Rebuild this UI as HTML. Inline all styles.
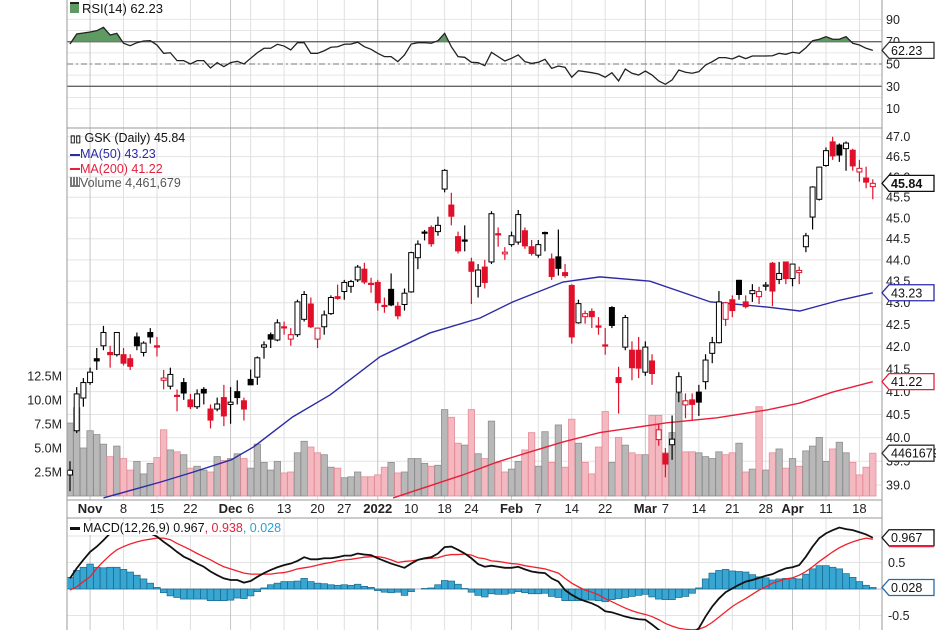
<!DOCTYPE html>
<html><head><meta charset="utf-8">
<style>
html,body{margin:0;padding:0;background:#fff;}
svg{display:block;font-family:"Liberation Sans",sans-serif;}
</style></head>
<body>
<svg id="chart" width="936" height="630" viewBox="0 0 936 630" xmlns="http://www.w3.org/2000/svg">
<defs>
<clipPath id="cpPrice"><rect x="67" y="128" width="815" height="372"/></clipPath>
<clipPath id="cpMacd"><rect x="67" y="518" width="815" height="112"/></clipPath>
<clipPath id="cpRsiHi"><rect x="67" y="0" width="815" height="41.7"/></clipPath>
</defs>
</svg>
<script>
const opens=[39.21,40.15,40.86,41.2,41.73,42.02,41.87,41.82,41.82,41.73,42.22,41.87,42.32,42.02,41.25,41.12,40.92,41.2,40.82,40.67,41.05,40.62,40.62,40.87,40.72,41.0,40.8,41.27,41.32,41.99,42.27,42.15,42.45,42.17,42.27,42.62,42.97,42.17,42.45,42.75,43.14,43.26,43.38,43.53,43.78,43.45,43.47,42.94,43.31,42.92,42.96,43.25,44.05,44.66,44.77,44.67,45.7,45.31,44.55,44.47,43.95,43.38,43.83,43.95,44.62,44.14,44.36,44.42,44.69,44.31,44.11,44.65,44.02,44.07,43.7,43.4,42.54,42.68,42.8,42.47,42.04,42.89,41.31,41.99,41.92,41.92,41.43,41.68,39.96,39.66,39.85,40.99,40.71,40.82,40.99,41.22,41.85,42.09,42.62,43.07,43.52,43.02,43.21,43.14,43.39,43.92,43.54,43.95,43.56,43.7,44.31,45.02,45.45,46.28,46.87,46.79,46.7,46.66,46.12,45.97,45.76];
const highs=[39.5,41.1,41.3,41.53,41.97,42.47,42.02,42.32,41.97,41.83,42.32,42.12,42.42,42.22,41.48,41.53,41.05,41.3,40.95,41.05,41.1,40.72,40.87,41.15,41.1,41.25,40.87,41.49,41.78,42.12,42.32,42.62,42.57,42.42,43.07,43.27,43.12,42.42,42.82,43.17,43.42,43.53,43.53,43.88,43.93,43.58,43.53,43.12,43.68,43.02,43.33,44.19,44.46,44.71,44.82,45.03,46.19,45.61,44.67,44.82,44.05,43.9,44.0,45.16,44.77,44.3,44.67,45.19,44.77,44.47,44.47,44.67,44.15,44.72,43.9,43.43,43.07,42.82,42.87,42.67,42.42,42.92,41.55,42.72,42.12,42.22,42.12,41.83,40.3,39.78,40.48,41.43,40.96,40.96,41.15,41.83,42.22,43.27,43.02,43.17,43.53,43.17,43.43,43.37,43.48,43.95,43.95,43.95,43.9,43.84,44.64,45.77,46.25,46.73,47.0,46.83,46.88,46.7,46.42,46.25,45.94];
const lows=[38.87,40.1,40.67,41.15,41.48,41.92,41.53,41.78,41.58,41.48,41.92,41.78,42.07,41.78,41.05,41.05,40.57,40.82,40.62,40.62,40.72,40.2,40.57,40.25,40.3,40.72,40.37,41.15,41.15,41.73,41.97,42.12,42.27,42.02,42.22,42.57,42.42,41.97,42.27,42.72,43.07,43.07,43.23,43.48,43.43,43.23,42.82,42.77,42.92,42.62,42.82,43.23,43.78,44.46,44.31,44.57,45.62,44.82,44.15,44.2,42.97,43.12,43.33,43.9,44.31,44.0,44.31,44.36,44.26,44.1,44.05,44.2,43.53,43.63,43.58,42.07,42.52,42.52,42.42,42.27,41.82,42.42,40.52,41.92,41.25,41.3,41.35,41.15,39.83,39.16,39.53,40.77,40.42,40.38,40.47,41.05,41.63,42.07,42.47,42.67,43.07,42.87,43.02,42.97,43.28,42.92,43.43,43.43,43.38,43.43,44.18,44.72,45.42,46.25,46.42,46.37,46.15,46.15,45.88,45.72,45.45];
const closes=[39.31,40.95,41.2,41.43,41.68,42.32,41.82,42.32,41.63,41.56,42.02,42.08,42.22,41.99,41.3,41.38,40.9,40.97,40.67,40.95,40.97,40.38,40.73,40.47,40.77,40.87,40.62,41.15,41.75,42.04,42.17,42.54,42.44,42.27,43.02,43.19,42.45,42.42,42.72,43.12,43.1,43.47,43.49,43.83,43.48,43.43,43.0,42.92,42.95,42.7,43.22,44.17,44.37,44.64,44.38,44.82,46.16,45.04,44.21,44.45,43.73,43.76,43.47,45.1,44.6,44.18,44.57,45.08,44.33,44.15,44.36,44.62,43.61,43.8,43.63,42.22,42.98,42.75,42.68,42.44,42.02,42.48,41.2,42.66,41.53,41.52,41.99,41.4,40.17,39.44,39.97,41.33,40.8,40.72,40.77,41.7,42.09,43.02,43.0,42.82,43.19,42.91,43.28,43.26,43.41,43.27,43.68,43.56,43.9,43.75,44.57,45.75,46.24,46.65,46.52,46.54,46.84,46.27,46.21,45.87,45.84];
const volumes=[7.6,9.2,5.0,6.8,6.4,5.4,4.1,5.2,3.9,2.7,3.6,2.3,3.4,4.0,6.9,4.8,4.6,4.3,2.9,3.1,2.7,2.5,4.1,3.7,3.9,4.4,3.9,2.9,5.4,3.5,2.7,3.6,2.4,2.5,4.5,5.7,5.1,4.5,4.3,3.0,2.9,1.9,2.0,2.5,2.0,2.0,2.2,3.0,3.5,2.4,2.5,3.9,3.9,3.4,3.1,3.2,9.0,8.2,5.5,5.3,9.0,4.4,3.9,7.8,3.5,2.5,2.8,3.6,4.8,6.6,3.1,6.7,3.5,7.4,3.0,8.0,5.5,3.5,2.3,5.1,8.8,3.5,6.1,5.3,4.5,4.3,4.3,8.4,8.4,4.5,6.6,10.7,4.6,4.6,4.5,4.1,3.9,4.6,4.3,4.5,5.5,2.5,2.8,9.3,2.7,4.5,4.9,2.9,3.9,3.1,4.7,5.2,6.1,3.6,4.9,5.6,4.5,3.5,2.2,3.0,4.461679];
const ma50Idx=[5,13.5,18.4,24.1,27.4,33.3,38.9,46.3,53.8,61.3,66.2,73.7,79.2,86.7,95.7,104.2,109.1,115.1,120];
const ma50Val=[38.73,39.06,39.27,39.53,39.8,40.45,40.93,41.77,42.31,42.65,43.02,43.48,43.6,43.5,43.02,42.9,42.81,43.06,43.23];
const ma200Idx=[48.3,58.7,63.8,68.8,73.7,79.2,89.2,96.7,104.2,109.1,114,120];
const ma200Val=[38.73,39.21,39.48,39.7,39.91,40.11,40.32,40.43,40.6,40.75,40.99,41.22];
const rsiVals=[67.9,76.9,77.8,78.7,79.9,82.9,76.0,77.5,68.6,66.4,69.1,70.6,70.9,67.0,59.6,60.1,53.0,53.0,50.0,53.0,53.0,46.4,51.2,47.6,51.2,52.4,50.0,55.1,60.1,64.1,64.1,67.7,66.1,62.6,69.1,69.1,59.6,59.6,61.9,65.0,65.5,67.7,67.9,69.5,65.5,63.2,59.6,56.6,56.6,52.1,58.1,67.9,69.1,69.1,68.6,70.9,77.5,65.5,56.6,56.0,51.5,51.2,48.5,60.5,56.6,52.7,55.1,58.1,52.1,50.6,51.5,54.2,46.1,48.2,47.0,38.1,44.0,43.1,42.2,41.0,38.1,42.2,34.8,45.5,41.7,40.1,43.7,40.1,34.8,31.8,35.7,44.6,42.6,41.7,43.1,49.1,52.1,55.7,55.7,54.5,57.2,54.8,57.2,57.2,57.2,57.4,59.6,58.7,60.5,59.6,64.6,70.9,72.2,74.5,72.2,72.2,74.5,68.6,67.0,64.1,62.23];
const macdVals=[0.2,0.39,0.55,0.7,0.8,0.92,1.05,1.15,1.17,1.17,1.15,1.11,1.05,0.99,0.89,0.8,0.7,0.61,0.55,0.48,0.42,0.33,0.26,0.2,0.17,0.17,0.12,0.15,0.23,0.3,0.36,0.41,0.45,0.48,0.53,0.6,0.56,0.56,0.58,0.58,0.6,0.63,0.63,0.67,0.65,0.64,0.58,0.53,0.48,0.44,0.4,0.48,0.55,0.58,0.6,0.67,0.79,0.8,0.74,0.67,0.58,0.47,0.42,0.44,0.42,0.4,0.4,0.42,0.37,0.33,0.31,0.3,0.2,0.14,-0.02,-0.11,-0.18,-0.23,-0.27,-0.33,-0.42,-0.44,-0.48,-0.52,-0.55,-0.57,-0.58,-0.67,-0.77,-0.85,-0.9,-0.9,-0.9,-0.85,-0.74,-0.52,-0.33,-0.18,-0.06,0.01,0.08,0.14,0.17,0.21,0.25,0.28,0.34,0.39,0.41,0.45,0.61,0.8,0.96,1.05,1.11,1.16,1.13,1.11,1.07,1.03,0.967];
const signalVals=[-0.02,0.04,0.14,0.23,0.39,0.52,0.64,0.74,0.8,0.85,0.89,0.92,0.94,0.96,0.96,0.93,0.86,0.8,0.74,0.67,0.61,0.55,0.48,0.42,0.38,0.34,0.3,0.28,0.28,0.28,0.28,0.3,0.31,0.34,0.38,0.4,0.42,0.45,0.48,0.5,0.53,0.55,0.56,0.58,0.6,0.61,0.61,0.59,0.55,0.5,0.52,0.53,0.55,0.57,0.58,0.59,0.63,0.65,0.65,0.66,0.64,0.59,0.57,0.53,0.52,0.5,0.48,0.47,0.44,0.42,0.4,0.38,0.34,0.3,0.2,0.11,0.04,-0.02,-0.06,-0.11,-0.18,-0.24,-0.3,-0.36,-0.41,-0.45,-0.48,-0.52,-0.58,-0.65,-0.7,-0.74,-0.76,-0.77,-0.76,-0.71,-0.63,-0.53,-0.43,-0.33,-0.25,-0.18,-0.1,-0.02,0.04,0.11,0.15,0.19,0.21,0.26,0.33,0.42,0.52,0.61,0.7,0.78,0.84,0.89,0.93,0.96,0.938];
const tickIdx=[3,8,13,18,24,27,32,37,41,46,51,56,60,66,70,75,80,86,89,94,99,104,108,113,118];
const tickLabels=["Nov","8","15","22","Dec","6","13","20","27","2022","10","18","24","Feb","7","14","22","Mar","7","14","21","28","Apr","11","18"];
const tickMajor=[1,0,0,0,1,0,0,0,0,1,0,0,0,1,0,0,0,1,0,0,0,0,1,0,0];
const priceTicks=[39.0,39.5,40.0,40.5,41.0,41.5,42.0,42.5,43.0,43.5,44.0,44.5,45.0,45.5,46.0,46.5,47.0];
const volTicks=[2.5,5.0,7.5,10.0,12.5];
const rsiTicks=[90,70,50,30,10];
const macdTicks=[0.5,-0.5];

const NS="http://www.w3.org/2000/svg";
const svg=document.getElementById('chart');
function mk(tag,attrs,parent){const e=document.createElementNS(NS,tag);for(const k in attrs)e.setAttribute(k,attrs[k]);(parent||svg).appendChild(e);return e;}
const L=67,R=882;
const xI=i=>70+i*6.69;
const yP=p=>136.7+1866.7*Math.log(47/p);
const yV=v=>496-v*9.6;
const yR=r=>64-(r-50)*1.115;
const yM=m=>589-m*53;
const fmt=(n,d)=>n.toFixed(d);

const grid=mk('g',{});


for(let r=10;r<=90;r+=10){mk('line',{x1:L,x2:R,y1:yR(r),y2:yR(r),stroke:'#e6e6e6','stroke-width':1},grid);}
priceTicks.forEach(p=>{mk('line',{x1:L,x2:R,y1:yP(p),y2:yP(p),stroke:'#e3e3e3','stroke-width':1},grid);});
[1,0.5,-0.5].forEach(m=>{mk('line',{x1:L,x2:R,y1:yM(m),y2:yM(m),stroke:'#e3e3e3','stroke-width':1},grid);});
tickIdx.forEach((t,k)=>{const x=xI(t);const c=tickMajor[k]?'#c4c4c4':'#e0e0e0';
  [[0,128],[128,500],[518,630]].forEach(s=>mk('line',{x1:x,x2:x,y1:s[0],y2:s[1],stroke:c,'stroke-width':1},grid));});

const rsiG=mk('g',{});


const l70=mk('line',{x1:L,x2:R,y1:yR(70),y2:yR(70),stroke:'#666','stroke-width':1.3},rsiG);


const l30=mk('line',{x1:L,x2:R,y1:yR(30),y2:yR(30),stroke:'#666','stroke-width':1.3},rsiG);


const l50=mk('line',{x1:L,x2:R,y1:yR(50),y2:yR(50),stroke:'#777','stroke-width':1,'stroke-dasharray':'6,3,2,3'},rsiG);


let rpts=rsiVals.map((v,i)=>xI(i)+','+yR(v));
const rfill=mk('polygon',{points:xI(0)+','+yR(70)+' '+rpts.join(' ')+' '+xI(rsiVals.length-1)+','+yR(70),fill:'#5e9a62',stroke:'none','clip-path':'url(#cpRsiHi)'},rsiG);


const rline=mk('polyline',{points:rpts.join(' '),fill:'none',stroke:'#222','stroke-width':1.3},rsiG);



const volG=mk('g',{'clip-path':'url(#cpPrice)'});


volumes.forEach((v,i)=>{const up=i===0||closes[i]>=closes[i-1];
  const b=mk('rect',{x:xI(i)-3.2,y:yV(v),width:6.4,height:496-yV(v),fill:up?'#b8b8b8':'#f4b9c0',stroke:up?'#8e8e8e':'#e58c98','stroke-width':0.8},volG);
  
  });

const maG=mk('g',{'clip-path':'url(#cpPrice)'});
const ma50=mk('polyline',{points:ma50Idx.map((t,k)=>xI(t)+','+yP(ma50Val[k])).join(' '),fill:'none',stroke:'#2b2ba6','stroke-width':1.4},maG);


const ma200=mk('polyline',{points:ma200Idx.map((t,k)=>xI(t)+','+yP(ma200Val[k])).join(' '),fill:'none',stroke:'#e6203c','stroke-width':1.4},maG);



const cG=mk('g',{'clip-path':'url(#cpPrice)'});


opens.forEach((o,i)=>{const c=closes[i];const up=i===0||c>=closes[i-1];const col=up?'#000':'#e0102a';const x=xI(i);
  const g=mk('g',{},cG);
  
  
  mk('line',{x1:x,x2:x,y1:yP(highs[i]),y2:yP(lows[i]),stroke:col,'stroke-width':1.2},g);
  const top=yP(Math.max(o,c)),bot=yP(Math.min(o,c));
  mk('rect',{x:x-2.5,y:top,width:5,height:Math.max(1.2,bot-top),fill:c<o?col:'#fff',stroke:col,'stroke-width':1},g);});

const mG=mk('g',{'clip-path':'url(#cpMacd)'});


mk('line',{x1:L,x2:R,y1:yM(0),y2:yM(0),stroke:'#bbb','stroke-width':1},mG);
macdVals.forEach((m,i)=>{const h=m-signalVals[i];const y0=yM(0),y1=yM(h);
  const b=mk('rect',{x:xI(i)-3.3,y:Math.min(y0,y1),width:6.6,height:Math.abs(y1-y0),fill:'#38a6d2',stroke:'#19698c','stroke-width':0.7},mG);
  
  });
const sl=mk('polyline',{points:signalVals.map((v,i)=>xI(i)+','+yM(v)).join(' '),fill:'none',stroke:'#f0202a','stroke-width':1.3},mG);


const ml=mk('polyline',{points:macdVals.map((v,i)=>xI(i)+','+yM(v)).join(' '),fill:'none',stroke:'#111','stroke-width':1.8},mG);



const fr=mk('g',{});


mk('line',{x1:L,x2:L,y1:0,y2:630,stroke:'#999','stroke-width':1},fr);
mk('line',{x1:R,x2:R,y1:0,y2:630,stroke:'#999','stroke-width':1},fr);
[128,500,518].forEach(y=>mk('line',{x1:L,x2:R,y1:y,y2:y,stroke:'#999','stroke-width':1},fr));
mk('rect',{x:L+0.5,y:500.5,width:R-L-1,height:17,fill:'#fff'},fr);

function txt(x,y,s,attrs,name){const t=mk('text',Object.assign({x:x,y:y,'font-size':12.5,fill:'#222'},attrs||{}));t.textContent=s;return t;}
rsiTicks.forEach(r=>txt(886,yR(r)+4.5,String(r),{},'rsi-tick-label'));
priceTicks.forEach(p=>txt(886,yP(p)+4.5,fmt(p,1),{},'price-tick-label'));
volTicks.forEach(v=>txt(62,yV(v)+4.5,fmt(v,1)+'M',{'text-anchor':'end'},'volume-tick-label'));
macdTicks.forEach(m=>txt(888,yM(m)+4.5,String(m),{},'macd-tick-label'));
tickIdx.forEach((t,k)=>txt(xI(t),513,tickLabels[k],{'text-anchor':'middle','font-weight':tickMajor[k]?'bold':'normal','font-size':13},'date-tick-label'));

function box(y,label,stroke,opts,name){const g=mk('g',{});
  
  
  mk('polygon',{points:`${R},${y} ${R+7},${y-8} 934,${y-8} 934,${y+8} ${R+7},${y+8}`,fill:'#fff',stroke:stroke,'stroke-width':1.3},g);
  if(opts&&opts.under)mk('line',{x1:R+7,x2:934,y1:y+8.5,y2:y+8.5,stroke:opts.under,'stroke-width':2},g);
  const t=mk('text',{x:R+9,y:y+4.5,'font-size':12.5,fill:'#111','font-weight':opts&&opts.bold?'bold':'normal'},g);t.textContent=label;}
const nL=rsiVals.length-1;
const histLast=macdVals[nL]-signalVals[nL];
box(yR(rsiVals[nL]),fmt(rsiVals[nL],2),'#333',{},'rsi-value-box');
box(yP(closes[nL]),fmt(closes[nL],2),'#111',{bold:true},'last-price-box');
box(yP(ma50Val[ma50Val.length-1]),fmt(ma50Val[ma50Val.length-1],2),'#2b2ba6',{},'ma50-value-box');
box(yP(ma200Val[ma200Val.length-1]),fmt(ma200Val[ma200Val.length-1],2),'#e6203c',{},'ma200-value-box');
box(yV(volumes[nL]),String(Math.round(volumes[nL]*1e6)),'#333',{},'volume-value-box');
box(yM(macdVals[nL]),fmt(macdVals[nL],3),'#111',{under:'#e6203c'},'macd-value-box');
box(yM(histLast),(Math.floor(histLast*1000-0.5)/1000).toFixed(3),'#2b6aa6',{},'histogram-value-box');
</script>
<div style="position:absolute;left:0;top:0;width:936px;height:630px;pointer-events:none;font-family:'Liberation Sans',sans-serif;">
  <div style="position:absolute;left:70px;top:1px;font-size:13px;color:#111;"><span style="display:inline-block;width:9px;height:9px;background:#5e9a62;border-top:2px solid #222;margin-right:3px;"></span>RSI(14) 62.23</div>
  <div style="position:absolute;left:70px;top:131px;font-size:12.5px;line-height:14.3px;">
    <div style="color:#111;"><b style="font-size:10px;">&#9647;&#9647;</b> GSK (Daily) 45.84</div>
    <div style="color:#2b2ba6;"><span style="display:inline-block;width:10px;height:2px;background:#2b2ba6;vertical-align:middle;"></span>MA(50) 43.23</div>
    <div style="color:#e6203c;"><span style="display:inline-block;width:10px;height:2px;background:#e6203c;vertical-align:middle;"></span>MA(200) 41.22</div>
    <div style="color:#555;"><span style="display:inline-block;width:10px;height:8px;border-bottom:2px solid #777;background:repeating-linear-gradient(90deg,#777 0 2px,transparent 2px 3px);"></span>Volume 4,461,679</div>
  </div>
  <div style="position:absolute;left:70px;top:521px;font-size:12.5px;color:#111;background:#fff;"><span style="display:inline-block;width:10px;height:3px;background:#111;vertical-align:middle;margin-right:3px;"></span>MACD(12,26,9) 0.967<span style="color:#e6203c;">, 0.938</span><span style="color:#2aa0d8;">, 0.028</span></div>
</div>
</body></html>
